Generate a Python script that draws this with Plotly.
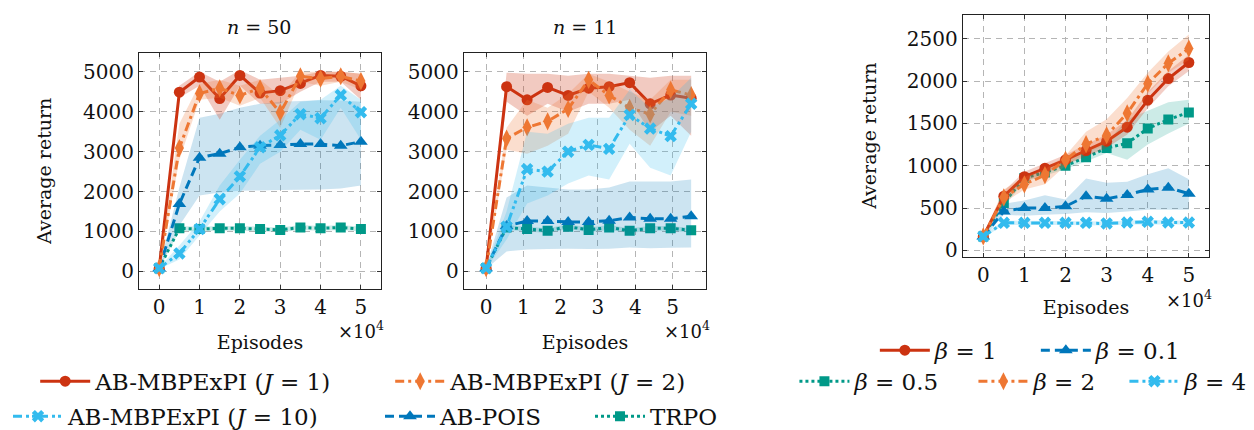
import plotly.graph_objects as go

# ---------------- data ----------------
x_n50 = [0, 0.5, 1, 1.5, 2, 2.5, 3, 3.5, 4, 4.5, 5]
x_n11 = [0, 0.55, 1.1, 1.65, 2.2, 2.75, 3.3, 3.85, 4.4, 4.95, 5.5]
x_beta = [0, 0.5, 1, 1.5, 2, 2.5, 3, 3.5, 4, 4.5, 5]

# n = 50
n50_j1 = [80, 4490, 4870, 4330, 4910, 4470, 4530, 4710, 4910, 4890, 4650]
n50_j1_lo = [60, 4350, 4650, 3800, 4650, 4200, 4200, 4500, 4750, 4750, 4300]
n50_j1_hi = [100, 4650, 5000, 4750, 5050, 4800, 4850, 4900, 5000, 5000, 4950]
n50_j2 = [80, 3090, 4460, 4590, 4410, 4590, 3980, 4890, 4830, 4890, 4770]
n50_j2_lo = [60, 2800, 4300, 4350, 4150, 4350, 3600, 4750, 4650, 4750, 4550]
n50_j2_hi = [100, 3700, 4700, 4800, 4650, 4800, 4400, 5000, 5000, 5000, 4950]
n50_j10 = [80, 450, 1060, 1810, 2380, 3110, 3410, 3940, 3840, 4420, 3990]
n50_j10_lo = [60, 300, 900, 1500, 1950, 2700, 3000, 3550, 3300, 4100, 3300]
n50_j10_hi = [100, 650, 1250, 2150, 2800, 3400, 3800, 4250, 4300, 4650, 4300]
n50_pois = [80, 1690, 2850, 2950, 3110, 3150, 3170, 3190, 3190, 3150, 3250]
n50_pois_lo = [60, 1150, 1900, 1980, 2020, 2030, 2040, 2050, 2050, 2080, 2150]
n50_pois_hi = [100, 2100, 3850, 3950, 4100, 4200, 4250, 4270, 4290, 4280, 4250]
n50_trpo = [80, 1080, 1060, 1080, 1080, 1060, 1040, 1100, 1080, 1100, 1060]
n50_trpo_lo = [60, 1020, 1000, 1020, 1020, 1000, 980, 1040, 1020, 1040, 1000]
n50_trpo_hi = [100, 1140, 1120, 1140, 1140, 1120, 1100, 1160, 1140, 1160, 1120]

# n = 11
n11_j1 = [80, 4630, 4300, 4610, 4410, 4590, 4630, 4730, 4200, 4420, 4340]
n11_j1_lo = [60, 4250, 3900, 4200, 4000, 4200, 4200, 4300, 3500, 3900, 3400]
n11_j1_hi = [100, 4980, 4950, 4950, 4900, 4950, 4950, 4900, 4850, 4900, 4900]
n11_j2 = [80, 3330, 3610, 3760, 4070, 4800, 4410, 4100, 3940, 4550, 4420]
n11_j2_lo = [60, 3050, 2950, 3150, 3450, 4500, 4100, 3550, 3150, 4000, 3900]
n11_j2_hi = [100, 3600, 4300, 4100, 4450, 4950, 4750, 4500, 4300, 4800, 4800]
n11_j10 = [80, 1120, 2560, 2500, 3000, 3170, 3070, 3920, 3580, 3390, 4200]
n11_j10_lo = [60, 800, 1700, 1900, 2200, 2400, 2300, 3200, 2600, 2400, 3500]
n11_j10_hi = [100, 1500, 3500, 3450, 3700, 3850, 3850, 4550, 4100, 4350, 4850]
n11_pois = [80, 1140, 1260, 1260, 1240, 1240, 1270, 1350, 1320, 1320, 1380]
n11_pois_lo = [60, 500, 550, 560, 570, 560, 570, 600, 580, 590, 600]
n11_pois_hi = [100, 1850, 2150, 2100, 2050, 2050, 2100, 2250, 2250, 2250, 2300]
n11_trpo = [80, 1100, 1060, 1020, 1120, 1040, 1100, 1020, 1080, 1080, 1030]
n11_trpo_lo = [60, 1040, 1000, 960, 1060, 980, 1040, 960, 1020, 1020, 970]
n11_trpo_hi = [100, 1160, 1120, 1080, 1180, 1100, 1160, 1080, 1140, 1140, 1090]

# beta panel
b1 = [165, 640, 870, 970, 1070, 1180, 1290, 1455, 1775, 2030, 2220]
b1_lo = [145, 580, 810, 910, 1010, 1110, 1210, 1370, 1680, 1940, 2120]
b1_hi = [185, 700, 930, 1030, 1130, 1250, 1370, 1540, 1870, 2120, 2310]
b2 = [165, 625, 780, 890, 1070, 1255, 1360, 1620, 1970, 2210, 2385]
b2_lo = [140, 560, 720, 780, 1000, 1150, 1250, 1450, 1850, 2100, 2250]
b2_hi = [190, 720, 870, 960, 1120, 1400, 1550, 1800, 2100, 2350, 2550]
b05 = [165, 560, 855, 920, 1000, 1100, 1210, 1265, 1440, 1545, 1630]
b05_lo = [140, 520, 810, 880, 960, 1050, 1150, 1070, 1250, 1380, 1500]
b05_hi = [190, 600, 900, 960, 1050, 1180, 1270, 1550, 1650, 1750, 1780]
b01 = [165, 460, 500, 500, 520, 640, 610, 655, 720, 740, 670]
b01_lo = [140, 420, 410, 420, 430, 450, 440, 460, 480, 480, 480]
b01_hi = [190, 550, 590, 650, 600, 850, 800, 810, 900, 970, 840]
b4 = [165, 325, 325, 325, 325, 325, 318, 329, 337, 329, 329]
b4_lo = [150, 300, 300, 300, 300, 300, 295, 305, 312, 305, 305]
b4_hi = [180, 350, 350, 350, 350, 350, 342, 353, 362, 353, 353]

x_ticks = [0, 1, 2, 3, 4, 5]
x_tick_text = ["0", "1", "2", "3", "4", "5"]
y_ticks_left = [0, 1000, 2000, 3000, 4000, 5000]
y_ticks_right = [0, 500, 1000, 1500, 2000, 2500]

# ---------------- styles ----------------
RED, ORANGE, CYAN, BLUE, TEAL = "#CC3311", "#EE7733", "#33BBEE", "#0077BB", "#009988"
FONT = "DejaVu Serif"


def rgba(hex_color, a):
    h = hex_color.lstrip("#")
    return "rgba(%d,%d,%d,%.2f)" % (int(h[0:2], 16), int(h[2:4], 16), int(h[4:6], 16), a)


DASHDOT = "9px,4px,3px,4px"
DASHDOTDOT = "9px,4px,3px,3px,3px,4px"
styles = {
    "j1": dict(color=RED, dash="solid", symbol="circle", size=11, alpha=0.26, lw=290,
               name="AB-MBPExPI (<i>J</i> = 1)"),
    "j2": dict(color=ORANGE, dash=DASHDOT, symbol="diamond-tall", size=13, alpha=0.24, lw=244,
               name="AB-MBPExPI (<i>J</i> = 2)"),
    "j10": dict(color=CYAN, dash=DASHDOTDOT, symbol="x", size=11, alpha=0.22, lw=307,
                name="AB-MBPExPI (<i>J</i> = 10)"),
    "pois": dict(color=BLUE, dash="9px,5px", symbol="triangle-up", size=12, alpha=0.2, lw=145, name="AB-POIS"),
    "trpo": dict(color=TEAL, dash="3px,3px", symbol="square", size=10, alpha=0.2, lw=72, name="TRPO"),
    "b1": dict(color=RED, dash="solid", symbol="circle", size=11, alpha=0.24, lw=96, name="<i>β</i> = 1"),
    "b01": dict(color=BLUE, dash="9px,5px", symbol="triangle-up", size=12, alpha=0.2, lw=88, name="<i>β</i> = 0.1"),
    "b05": dict(color=TEAL, dash="3px,3px", symbol="square", size=10, alpha=0.2, lw=114, name="<i>β</i> = 0.5"),
    "b2": dict(color=ORANGE, dash=DASHDOT, symbol="diamond-tall", size=13, alpha=0.24, lw=86, name="<i>β</i> = 2"),
    "b4": dict(color=CYAN, dash=DASHDOTDOT, symbol="x", size=11, alpha=0.22, lw=60, name="<i>β</i> = 4"),
}

fig = go.Figure()


def add_series(key, xs, mean, lo, hi, xa, ya, show, legend, rank):
    st = styles[key]
    fig.add_trace(go.Scatter(
        x=list(xs) + list(xs)[::-1], y=list(hi) + list(lo)[::-1],
        fill="toself", fillcolor=rgba(st["color"], st["alpha"]), line=dict(width=0),
        mode="lines", hoverinfo="skip", showlegend=False, xaxis=xa, yaxis=ya))
    fig.add_trace(go.Scatter(
        x=xs, y=mean, mode="lines+markers", name=st["name"],
        line=dict(color=st["color"], width=3, dash=st["dash"]),
        marker=dict(symbol=st["symbol"], size=st["size"], color=st["color"], line=dict(width=0)),
        showlegend=show, legend=legend, legendrank=rank, legendwidth=st["lw"], xaxis=xa, yaxis=ya))


panels = [
    ("x", "y", x_n50, [("trpo", n50_trpo, n50_trpo_lo, n50_trpo_hi), ("pois", n50_pois, n50_pois_lo, n50_pois_hi),
                      ("j1", n50_j1, n50_j1_lo, n50_j1_hi), ("j2", n50_j2, n50_j2_lo, n50_j2_hi),
                      ("j10", n50_j10, n50_j10_lo, n50_j10_hi)], True),
    ("x2", "y2", x_n11, [("trpo", n11_trpo, n11_trpo_lo, n11_trpo_hi), ("pois", n11_pois, n11_pois_lo, n11_pois_hi),
                        ("j1", n11_j1, n11_j1_lo, n11_j1_hi), ("j2", n11_j2, n11_j2_lo, n11_j2_hi),
                        ("j10", n11_j10, n11_j10_lo, n11_j10_hi)], False),
    ("x3", "y3", x_beta, [("b05", b05, b05_lo, b05_hi), ("b01", b01, b01_lo, b01_hi),
                         ("b1", b1, b1_lo, b1_hi), ("b2", b2, b2_lo, b2_hi), ("b4", b4, b4_lo, b4_hi)], True),
]
legend_of = {"j1": ("legend", 1), "j2": ("legend", 2), "j10": ("legend2", 1), "pois": ("legend2", 2),
             "trpo": ("legend2", 3), "b1": ("legend3", 1), "b01": ("legend3", 2), "b05": ("legend4", 1),
             "b2": ("legend4", 2), "b4": ("legend4", 3)}

for xa, ya, xs, series, show in panels:
    for key, m, lo, hi in series:
        lg, rk = legend_of[key]
        add_series(key, xs, m, lo, hi, xa, ya, show, lg, rk)

axis_common = dict(showline=True, linecolor="#222", linewidth=1, mirror="allticks", ticks="inside",
                   ticklen=4, tickcolor="#333", tickwidth=1, showgrid=True, gridcolor="#b5b5b5",
                   griddash="6px,5px", gridwidth=1, zeroline=False, automargin=False,
                   tickfont=dict(family=FONT, size=20, color="#111"))
title_font = dict(family=FONT, size=19, color="#111")

Y_LO, Y_HI = 1 - 289 / 430, 1 - 46 / 430
Y3_LO, Y3_HI = 1 - 256 / 430, 1 - 6.7 / 430

fig.update_layout(
    width=1254, height=430, margin=dict(l=0, r=0, t=0, b=0),
    paper_bgcolor="white", plot_bgcolor="white",
    font=dict(family=FONT, size=18, color="#111"),
    xaxis=dict(domain=[122 / 1254, 366 / 1254], range=[-0.5, 5.5], tickvals=x_ticks, ticktext=x_tick_text,
               anchor="y", title=dict(text="Episodes", font=title_font, standoff=17), **axis_common),
    yaxis=dict(domain=[Y_LO, Y_HI], range=[-440, 5480], tickvals=y_ticks_left, anchor="x",
               title=dict(text="Average return", font=title_font, standoff=26), **axis_common),
    xaxis2=dict(domain=[449.3 / 1254, 694 / 1254], range=[-0.6, 5.91], tickvals=x_ticks, ticktext=x_tick_text,
                anchor="y2", title=dict(text="Episodes", font=title_font, standoff=17), **axis_common),
    yaxis2=dict(domain=[Y_LO, Y_HI], range=[-440, 5480], tickvals=y_ticks_left, anchor="x2", **axis_common),
    xaxis3=dict(domain=[952.3 / 1254, 1201 / 1254], range=[-0.5, 5.5], tickvals=x_ticks, ticktext=x_tick_text,
                anchor="y3", title=dict(text="Episodes", font=title_font, standoff=14), **axis_common),
    yaxis3=dict(domain=[Y3_LO, Y3_HI], range=[-77, 2787], tickvals=y_ticks_right, anchor="x3",
                title=dict(text="Average return", font=title_font, standoff=25), **axis_common),
)

leg_common = dict(orientation="h", xanchor="center", yanchor="middle", bgcolor="rgba(0,0,0,0)",
                  font=dict(family=FONT, size=23, color="#111"), itemwidth=50)
fig.update_layout(
    legend=dict(x=352 / 1254, y=1 - 384 / 430, **leg_common),
    legend2=dict(x=352 / 1254, y=1 - 420 / 430, **leg_common),
    legend3=dict(x=1022 / 1254, y=1 - 352 / 430, **leg_common),
    legend4=dict(x=1012 / 1254, y=1 - 384 / 430, **leg_common),
)

ann = []


def A(text, x, y, size=18, angle=0):
    ann.append(dict(text=text, x=x / 1254, y=1 - y / 430, xref="paper", yref="paper", showarrow=False,
                    textangle=angle, xanchor="center", yanchor="middle",
                    font=dict(family=FONT, size=size, color="#111")))


A("<i>n</i> = 50", 243, 20, 19)
A("<i>n</i> = 11", 572, 20, 19)
A("×10<sup>4</sup>", 346, 331, 18)
A("×10<sup>4</sup>", 674, 331, 18)
A("×10<sup>4</sup>", 1180, 299, 18)
fig.update_layout(annotations=ann)

fig.write_html("out.html")
